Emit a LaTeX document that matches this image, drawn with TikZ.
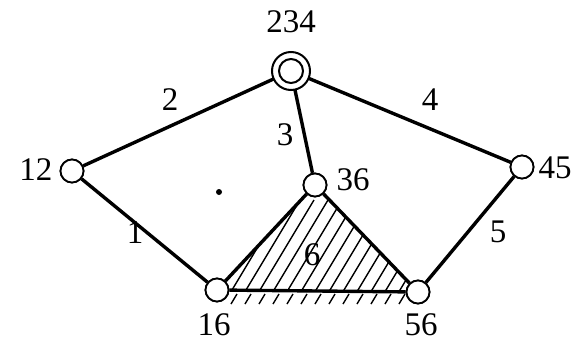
\documentclass[tikz,border=0pt]{standalone}
\usepackage{fontspec}
\setmainfont{Liberation Serif}
\begin{document}
\begin{tikzpicture}[x=1pt,y=-1pt,
  vert/.style={circle,draw,line width=1.8pt,fill=white,minimum size=23pt,inner sep=0pt},
  edge/.style={line width=3.4pt},
  lbl/.style={font=\fontsize{33}{33}\selectfont,inner sep=0pt},
  hatch/.style={line width=1.4pt}]
\useasboundingbox (0,0) rectangle (582,343);
\coordinate (v234) at (291,71);
\node[vert] (v12) at (72,171) {};
\node[vert] (v45) at (522,167) {};
\node[vert] (v36) at (315,185) {};
\node[vert] (v16) at (217,290) {};
\node[vert] (v56) at (418,292) {};
% hatching of triangle
\begin{scope}
  \clip (v16.center) -- (v36.center) -- (v56.center) -- cycle;
  \foreach \i in {0,...,14} {
    \draw[hatch] (212+14*\i,300) -- ++(60,-100);
  }
\end{scope}
\foreach \i in {0,...,12} {
  \draw[hatch] (231+14*\i,304) -- ++(6,-10);
}
% edges
\draw[edge] (v12) -- (v234);
\draw[edge] (v234) -- (v45);
\draw[edge] (v234) -- (v36);
\draw[edge] (v12) -- (v16);
\draw[edge] (v45) -- (v56);
\draw[edge] (v16) -- (v36);
\draw[edge] (v36) -- (v56);
\draw[edge] (v16) -- (v56);
% vertices on top
\node[vert] at (v12) {};
\node[vert] at (v45) {};
\node[vert] at (v36) {};
\node[vert] at (v16) {};
\node[vert] at (v56) {};
\node[circle,draw,line width=2pt,fill=white,minimum size=38pt,inner sep=0pt] (o234) at (v234) {};
\node[circle,draw,line width=2pt,minimum size=24pt,inner sep=0pt] (i234) at (v234) {};
% labels
\node[lbl] (t234) at (291,22) {234};
\node[lbl] (t12) at (36,170) {12};
\node[lbl] (t45) at (555,168) {45};
\node[lbl] (t36) at (353,180) {36};
\node[lbl] (t16) at (214,325) {16};
\node[lbl] (t56) at (421,325) {56};
\node[lbl] (t6) at (312,255) {6};
\node[lbl] (t2) at (170,100) {2};
\node[lbl] (t4) at (430,100) {4};
\node[lbl] (t3) at (285,135) {3};
\node[lbl] (t1) at (135,233) {1};
\node[lbl] (t5) at (498,232) {5};
\fill (219,192) circle (3pt);
\end{tikzpicture}
\end{document}
